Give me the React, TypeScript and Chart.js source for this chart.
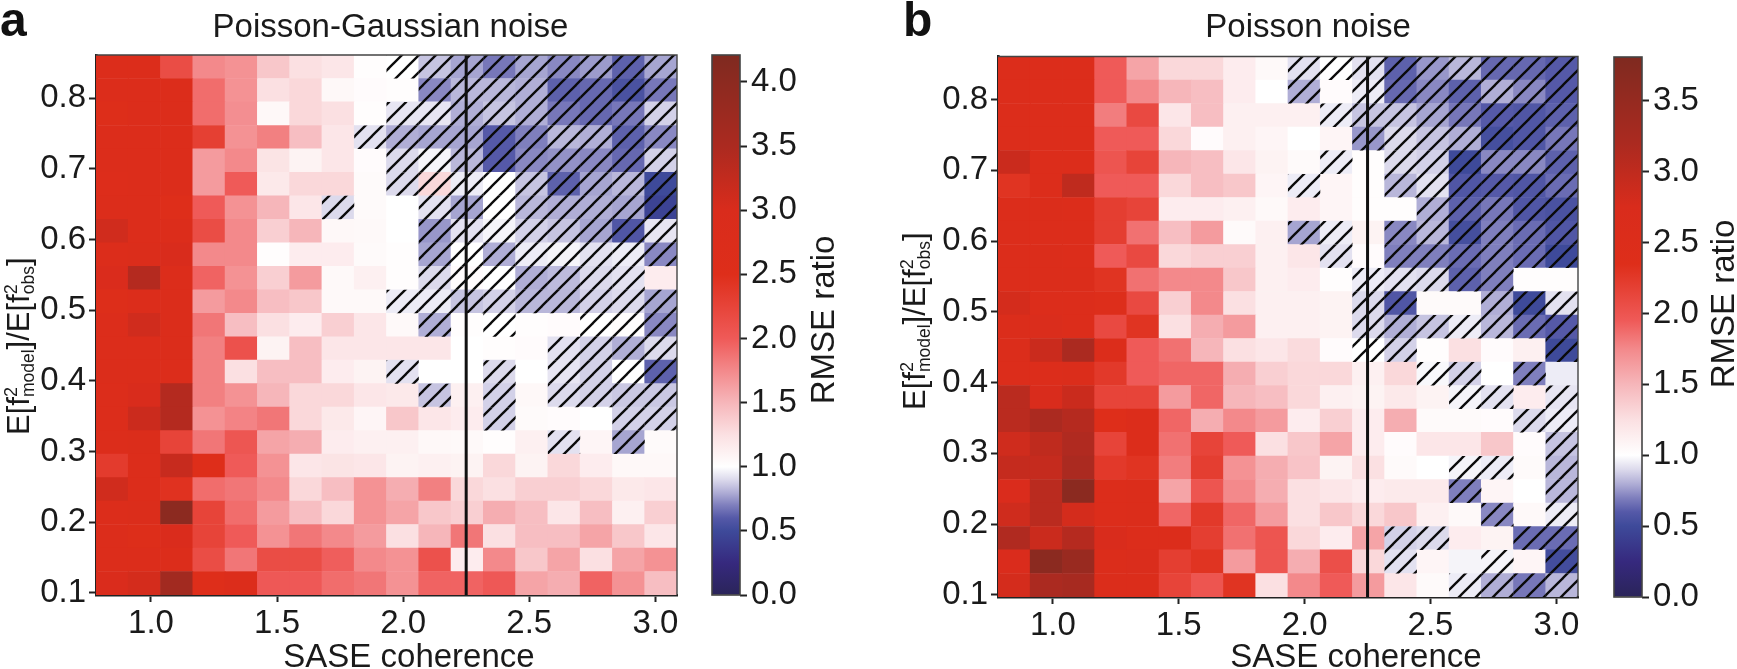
import React, { useEffect, useRef } from "react";
import { Chart, registerables } from "chart.js";

Chart.register(...registerables);

const FONT = '"Liberation Sans", Arial, sans-serif';
const INK = "#1a1a1a";

const coherenceCentres = [0.846, 0.974, 1.102, 1.23, 1.358, 1.486, 1.614, 1.742, 1.87, 1.998, 2.126, 2.254, 2.382, 2.51, 2.638, 2.766, 2.894, 3.022];
const fractionCentres = [0.8444, 0.8112, 0.778, 0.7447, 0.7115, 0.6783, 0.6451, 0.6119, 0.5787, 0.5455, 0.5122, 0.479, 0.4458, 0.4126, 0.3794, 0.3462, 0.313, 0.2797, 0.2465, 0.2133, 0.1801, 0.1469, 0.1136];
const xTickValues = [1.0, 1.5, 2.0, 2.5, 3.0];
const yTickValues = [0.1, 0.2, 0.3, 0.4, 0.5, 0.6, 0.7, 0.8];
const coherenceThreshold = [2.25];
const colorbarTicksA = [0, 0.5, 1, 1.5, 2, 2.5, 3, 3.5, 4];
const colorbarTicksB = [0, 0.5, 1, 1.5, 2, 2.5, 3, 3.5];

const ratioA = [
  [2.7, 2.7, 2.15, 1.75, 1.7, 1.4, 1.25, 1.2, 1.02, 1.0, 0.85, 0.78, 0.68, 0.78, 0.72, 0.76, 0.62, 0.78],
  [2.7, 2.75, 2.75, 1.9, 1.7, 1.25, 1.3, 1.06, 1.03, 1.02, 0.72, 0.82, 0.82, 0.8, 0.62, 0.64, 0.55, 0.68],
  [2.6, 2.75, 2.75, 1.9, 1.72, 1.06, 1.3, 1.25, 1.02, 0.93, 0.93, 0.8, 0.85, 0.8, 0.68, 0.64, 0.68, 0.88],
  [2.7, 2.7, 2.75, 2.3, 1.7, 1.8, 1.45, 1.2, 0.92, 0.8, 0.78, 0.78, 0.6, 0.7, 0.82, 0.8, 0.62, 0.72],
  [2.7, 2.7, 2.75, 1.65, 1.75, 1.22, 1.1, 1.2, 1.03, 0.9, 0.97, 0.82, 0.6, 0.72, 0.74, 0.72, 0.64, 0.88],
  [2.65, 2.7, 2.75, 1.65, 2.0, 1.18, 1.3, 1.3, 1.04, 0.9, 1.3, 0.95, 1.0, 0.85, 0.62, 0.78, 0.82, 0.5],
  [2.75, 2.75, 2.5, 2.0, 1.7, 1.5, 1.2, 0.9, 1.04, 1.0, 0.92, 0.78, 1.0, 0.82, 0.8, 0.8, 0.78, 0.45],
  [3.1, 2.75, 2.7, 2.15, 1.75, 1.35, 1.5, 1.06, 1.05, 1.0, 0.75, 0.92, 0.97, 0.88, 0.85, 0.78, 0.58, 0.93],
  [2.75, 2.8, 3.0, 1.75, 1.75, 1.02, 1.15, 1.15, 1.04, 1.02, 0.78, 1.0, 0.8, 0.95, 0.97, 0.92, 0.95, 0.72],
  [2.95, 3.4, 2.75, 1.95, 1.7, 1.35, 1.65, 1.05, 1.12, 1.02, 0.9, 1.03, 1.0, 0.8, 0.83, 0.9, 0.92, 1.15],
  [2.6, 2.75, 2.8, 1.65, 1.75, 1.45, 1.4, 1.05, 1.05, 0.95, 0.95, 0.85, 0.88, 0.82, 0.82, 0.88, 0.9, 0.78],
  [2.75, 3.1, 2.8, 1.85, 1.45, 1.25, 1.15, 1.35, 1.2, 1.05, 0.8, 1.02, 1.0, 1.02, 1.03, 1.0, 1.02, 0.72],
  [2.7, 2.7, 2.8, 1.8, 2.1, 1.1, 1.45, 1.2, 1.2, 1.2, 1.2, 1.0, 1.02, 1.03, 0.92, 0.88, 0.8, 0.9],
  [2.85, 2.85, 2.7, 1.8, 1.25, 1.45, 1.45, 1.15, 1.1, 0.92, 1.0, 1.0, 0.9, 1.0, 0.93, 0.88, 1.0, 0.62],
  [2.75, 3.0, 3.4, 1.8, 1.7, 1.5, 1.3, 1.3, 1.2, 1.18, 0.85, 1.12, 0.88, 1.06, 0.9, 0.88, 0.86, 0.86],
  [2.75, 3.15, 3.4, 1.7, 1.78, 1.85, 1.3, 1.18, 1.08, 1.4, 1.2, 1.15, 0.88, 1.04, 1.03, 1.0, 0.88, 0.88],
  [2.75, 2.85, 2.25, 1.85, 2.05, 1.6, 1.55, 1.15, 1.12, 1.12, 1.06, 1.05, 1.02, 1.12, 0.92, 1.08, 0.78, 1.04],
  [2.35, 2.75, 3.2, 2.5, 2.0, 1.7, 1.2, 1.22, 1.2, 1.1, 1.12, 1.1, 1.3, 1.1, 1.3, 1.15, 1.06, 1.06],
  [3.1, 2.75, 2.45, 1.9, 1.85, 1.75, 1.3, 1.45, 1.7, 1.55, 1.8, 1.3, 1.25, 1.35, 1.35, 1.3, 1.18, 1.2],
  [2.75, 2.85, 4.0, 2.25, 1.9, 1.65, 1.45, 1.3, 1.7, 1.6, 1.4, 1.35, 1.55, 1.45, 1.2, 1.45, 1.12, 1.35],
  [2.7, 2.6, 2.95, 2.25, 2.0, 1.7, 1.85, 1.75, 1.65, 1.25, 1.5, 1.85, 1.25, 1.45, 1.45, 1.6, 1.4, 1.2],
  [2.7, 2.7, 2.7, 2.15, 1.85, 2.15, 2.15, 1.98, 1.75, 1.7, 2.1, 1.15, 1.75, 1.4, 1.6, 1.25, 1.6, 1.7],
  [2.95, 3.05, 3.65, 2.55, 2.75, 2.02, 2.02, 1.9, 1.85, 1.7, 1.95, 1.95, 2.02, 1.6, 1.55, 1.95, 1.7, 1.45],
];

const hatchA = [
  "000000000111111111",
  "000000000011111111",
  "000000000111111111",
  "000000001111111111",
  "000000000111111111",
  "000000000111111111",
  "000000010011111111",
  "000000000011111111",
  "000000000011111111",
  "000000000011111110",
  "000000000111111111",
  "000000000010100111",
  "000000000000001111",
  "000000000100101111",
  "000000000010101111",
  "000000000000100011",
  "000000000000001010",
  "000000000000000000",
  "000000000000000000",
  "000000000000000000",
  "000000000000000000",
  "000000000000000000",
  "000000000000000000",
];

const ratioB = [
  [2.5, 2.5, 2.5, 1.95, 1.6, 1.3, 1.3, 1.15, 1.05, 0.92, 1.0, 0.92, 0.62, 0.75, 0.82, 0.64, 0.64, 0.6],
  [2.5, 2.55, 2.5, 1.95, 1.75, 1.5, 1.45, 1.15, 1.0, 0.8, 1.03, 0.95, 0.64, 0.72, 0.62, 0.8, 0.72, 0.6],
  [2.5, 2.5, 2.5, 1.8, 2.1, 1.2, 1.45, 1.12, 1.12, 1.12, 0.95, 0.85, 0.85, 0.78, 0.68, 0.6, 0.58, 0.62],
  [2.5, 2.5, 2.5, 1.95, 1.95, 1.3, 1.03, 1.12, 1.08, 1.0, 1.08, 0.75, 0.9, 0.85, 0.8, 0.53, 0.58, 0.68],
  [2.9, 2.5, 2.5, 2.0, 2.15, 1.5, 1.45, 1.2, 1.1, 1.04, 0.95, 1.02, 0.9, 0.88, 0.5, 0.72, 0.72, 0.62],
  [2.3, 2.55, 3.0, 1.95, 1.95, 1.3, 1.45, 1.4, 1.08, 0.95, 1.08, 1.02, 0.82, 0.92, 0.58, 0.6, 0.58, 0.65],
  [2.55, 2.6, 2.55, 2.2, 2.15, 1.15, 1.15, 1.12, 1.05, 1.15, 1.08, 1.02, 1.02, 0.8, 0.62, 0.68, 0.58, 0.55],
  [2.5, 2.5, 2.5, 2.2, 1.85, 1.45, 1.65, 1.04, 1.12, 0.78, 0.95, 1.1, 0.72, 0.82, 0.53, 0.7, 0.65, 0.58],
  [2.5, 2.6, 2.55, 1.95, 2.1, 1.3, 1.35, 1.35, 1.12, 1.2, 0.92, 1.03, 0.7, 0.7, 0.65, 0.7, 0.65, 0.5],
  [2.5, 2.6, 2.6, 2.3, 1.85, 1.75, 1.75, 1.4, 1.12, 1.15, 1.02, 0.95, 0.92, 0.9, 0.62, 0.7, 1.02, 1.02],
  [2.8, 2.5, 2.5, 2.45, 2.1, 1.35, 1.75, 1.25, 1.12, 1.12, 1.1, 0.9, 0.58, 1.04, 1.04, 0.8, 0.5, 0.92],
  [2.6, 2.65, 2.5, 2.1, 2.3, 1.25, 1.55, 1.65, 1.12, 1.12, 1.1, 0.9, 0.8, 0.85, 0.95, 0.82, 0.65, 0.6],
  [2.6, 2.9, 3.2, 2.5, 1.95, 1.85, 1.5, 1.25, 1.2, 1.28, 1.03, 1.0, 0.88, 1.02, 1.25, 1.03, 1.12, 0.5],
  [2.55, 2.55, 2.6, 2.25, 1.95, 1.9, 1.9, 1.55, 1.35, 1.3, 1.3, 1.12, 1.3, 0.98, 0.88, 1.0, 0.7, 0.95],
  [3.05, 2.75, 2.9, 2.15, 2.15, 1.65, 1.9, 1.5, 1.45, 1.3, 1.12, 1.1, 1.18, 1.1, 0.97, 0.92, 1.15, 0.93],
  [3.05, 3.2, 3.1, 2.35, 2.5, 1.9, 1.55, 1.75, 1.65, 1.15, 1.35, 1.15, 1.55, 1.04, 1.04, 1.03, 0.9, 0.95],
  [2.85, 3.0, 3.15, 2.15, 2.5, 1.85, 2.15, 1.95, 1.25, 1.4, 1.6, 1.15, 1.03, 1.2, 1.2, 1.4, 1.03, 0.85],
  [2.95, 2.95, 3.2, 2.25, 2.3, 1.8, 2.2, 1.7, 1.55, 1.42, 1.1, 1.25, 1.04, 1.0, 0.97, 0.95, 1.04, 0.82],
  [2.7, 3.05, 3.65, 2.55, 2.6, 1.6, 2.0, 1.75, 1.55, 1.25, 1.2, 1.15, 1.17, 1.17, 0.7, 1.08, 1.0, 0.82],
  [2.85, 3.05, 2.8, 2.55, 2.6, 1.9, 2.25, 1.9, 1.65, 1.25, 1.4, 1.3, 1.4, 1.12, 1.05, 0.72, 1.05, 0.95],
  [3.15, 2.9, 3.1, 2.75, 2.5, 2.5, 2.2, 1.85, 2.0, 1.3, 1.15, 1.6, 0.88, 0.9, 1.15, 1.1, 0.65, 0.65],
  [2.7, 3.65, 3.45, 2.6, 2.65, 2.2, 2.3, 1.65, 2.0, 1.55, 2.05, 1.3, 0.92, 1.08, 0.97, 0.97, 1.08, 0.52],
  [2.8, 3.2, 3.25, 2.6, 2.6, 2.15, 2.0, 2.3, 1.25, 1.75, 1.95, 1.65, 1.2, 1.04, 0.95, 0.8, 0.68, 0.82],
];

const hatchB = [
  "000000000111111111",
  "000000000101111111",
  "000000000011111111",
  "000000000001111111",
  "000000000010111111",
  "000000000100111111",
  "000000000000011111",
  "000000000110111111",
  "000000000010111111",
  "000000000001111100",
  "000000000001100111",
  "000000000001111111",
  "000000000001100001",
  "000000000000011010",
  "000000000000001101",
  "000000000000000011",
  "000000000000000001",
  "000000000000001101",
  "000000000000001001",
  "000000000000000101",
  "000000000000110011",
  "000000000000100101",
  "000000000000001111",
];

const stopColors = ["#2a2459", "#36297e", "#3e4a9a", "#5559a8", "#7f7fbd", "#b0aed6", "#dcdaec", "#ffffff", "#fbe0e2", "#f6b6ba", "#f3898b", "#ef5a58", "#de2e1a", "#d92c1c", "#ab2a20", "#7f2a20"];
const stopValuesA = [0, 0.25, 0.5, 0.6, 0.7, 0.8, 0.9, 1, 1.25, 1.5, 1.75, 2, 2.5, 3, 3.5, 4.21];
const stopValuesB = [0, 0.25, 0.5, 0.6, 0.7, 0.8, 0.9, 1, 1.25, 1.5, 1.75, 1.95, 2.35, 2.75, 3.2, 3.81];

const rgb = (h: string) => [1, 3, 5].map((i) => parseInt(h.slice(i, i + 2), 16));
function colorFor(v: number, stops: number[]) {
  let i = 0;
  while (i < stops.length - 2 && v > stops[i + 1]) i++;
  const t = Math.min(1, Math.max(0, (v - stops[i]) / (stops[i + 1] - stops[i])));
  const a = rgb(stopColors[i]);
  const b = rgb(stopColors[i + 1]);
  return `rgb(${a.map((c, k) => Math.round(c + (b[k] - c) * t)).join(",")})`;
}

const X_MIN = 0.782;
const X_MAX = 3.086;
const Y_MIN = 0.097;
const Y_MAX = 0.861;
const ROW_STEP = 0.0332;
const TICK_FONT = 33;
const LABEL_FONT = 33;
const HATCH_PERIOD = 17;

function hatchPattern(phase: number) {
  const p = HATCH_PERIOD;
  const tile = document.createElement("canvas");
  tile.width = p;
  tile.height = p;
  const c = tile.getContext("2d")!;
  c.strokeStyle = "#0a0a0a";
  c.lineWidth = 2.3;
  for (const o of [-p, 0, p]) {
    c.beginPath();
    c.moveTo(o - 2, p + 2);
    c.lineTo(o + p + 2, -2);
    c.stroke();
  }
  const pattern = c.createPattern(tile, "repeat") as CanvasPattern;
  pattern.setTransform(new DOMMatrix().translate(phase, 0));
  return pattern;
}

function text(ctx: CanvasRenderingContext2D, s: string, x: number, y: number, size: number, weight = "normal") {
  ctx.font = `${weight} ${size}px ${FONT}`;
  ctx.fillText(s, x, y);
  return ctx.measureText(s).width;
}

function panelPlugin(o: any) {
  return {
    id: "panelExtras",
    afterDraw(chart: any) {
      const { ctx, chartArea: a } = chart;
      ctx.save();
      ctx.strokeStyle = "#444";
      ctx.lineWidth = 1.4;
      ctx.beginPath();
      ctx.moveTo(a.left, a.top);
      ctx.lineTo(a.right, a.top);
      ctx.lineTo(a.right, a.bottom);
      ctx.stroke();
      ctx.fillStyle = "#111";
      ctx.textBaseline = "alphabetic";
      ctx.textAlign = "left";
      text(ctx, o.letter, o.letterX, 36, 48, "bold");
      ctx.fillStyle = INK;
      ctx.textAlign = "center";
      text(ctx, o.title, o.titleX, 37, LABEL_FONT);
      text(ctx, "SASE coherence", o.xLabelX, 667, LABEL_FONT);
      ctx.textAlign = "left";
      ctx.translate(o.labelX, o.labelBottom);
      ctx.rotate(-Math.PI / 2);
      let x = 0;
      x += text(ctx, "E[f", x, 0, 31);
      text(ctx, "2", x, -12, 18);
      x += text(ctx, "model", x, 5, 17.5);
      x += text(ctx, "]/E[f", x, 0, 31);
      text(ctx, "2", x, -12, 18);
      x += text(ctx, "obs", x, 5, 17.5);
      text(ctx, "]", x, 0, 31);
      ctx.restore();
    },
  };
}

function makeHeatmap(canvas: HTMLCanvasElement, o: any) {
  const cells = fractionCentres.flatMap((fy, r) =>
    coherenceCentres.map((x, c) => ({ x, y: [fy - ROW_STEP / 2, fy + ROW_STEP / 2], v: o.values[r][c], h: o.hatch[r][c] === "1" }))
  );
  return new Chart(canvas, {
    type: "bar",
    data: {
      datasets: [
        {
          data: cells.map((d) => ({ x: d.x, y: d.y })),
          backgroundColor: cells.map((d) => colorFor(d.v, o.stops)),
          barThickness: o.cellWidth,
          grouped: false,
          order: 3,
        },
        {
          data: cells.filter((d) => d.h).map((d) => ({ x: d.x, y: d.y })),
          backgroundColor: hatchPattern(o.hatchPhase),
          barThickness: o.cellWidth,
          grouped: false,
          inflateAmount: 0,
          order: 2,
        },
        {
          type: "line",
          data: [
            { x: coherenceThreshold[0], y: Y_MIN },
            { x: coherenceThreshold[0], y: Y_MAX },
          ],
          borderColor: "#111",
          borderWidth: 3,
          pointRadius: 0,
          order: 1,
        },
      ] as any,
    },
    options: {
      responsive: false,
      animation: false,
      layout: { padding: { left: 0, right: o.rightPad, top: o.plotTop, bottom: 0 } },
      plugins: {
        legend: { display: false },
        tooltip: { enabled: false },
      },
      scales: {
        x: {
          type: "linear",
          min: X_MIN,
          max: X_MAX,
          offset: false,
          afterBuildTicks: (s: any) => {
            s.ticks = xTickValues.map((value) => ({ value }));
          },
          afterFit: (s: any) => {
            s.height = 669 - o.plotBottom;
          },
          ticks: { autoSkip: false, maxRotation: 0, color: INK, padding: 2, font: { family: FONT, size: TICK_FONT }, callback: (v: any) => Number(v).toFixed(1) },
          grid: { offset: false, drawOnChartArea: false, drawTicks: true, tickLength: 7, tickWidth: 2, tickColor: "#222" },
          border: { display: true, color: "#222", width: 2.6 },
        },
        y: {
          type: "linear",
          min: Y_MIN,
          max: Y_MAX,
          afterBuildTicks: (s: any) => {
            s.ticks = yTickValues.map((value) => ({ value }));
          },
          afterFit: (s: any) => {
            s.width = o.plotLeft;
          },
          ticks: { autoSkip: false, color: INK, padding: 3, font: { family: FONT, size: TICK_FONT }, callback: (v: any) => Number(v).toFixed(1) },
          grid: { drawOnChartArea: false, drawTicks: true, tickLength: 7, tickWidth: 2, tickColor: "#222" },
          border: { display: true, color: "#222", width: 2.6 },
        },
      },
    } as any,
    plugins: [panelPlugin(o)] as any,
  });
}

function makeColorbar(canvas: HTMLCanvasElement, o: any) {
  return new Chart(canvas, {
    type: "bar",
    data: {
      labels: ["RMSE ratio"],
      datasets: [
        {
          data: [[0, o.stops[o.stops.length - 1]]],
          barPercentage: 1,
          categoryPercentage: 1,
          backgroundColor: (ctx: any) => {
            const area = ctx.chart.chartArea;
            const top = o.stops[o.stops.length - 1];
            if (!area || !Number.isFinite(area.top) || !Number.isFinite(area.bottom)) return stopColors[7];
            const g = ctx.chart.ctx.createLinearGradient(0, area.bottom, 0, area.top);
            o.stops.forEach((v: number, i: number) => g.addColorStop(v / top, stopColors[i]));
            return g;
          },
        },
      ] as any,
    },
    options: {
      responsive: false,
      animation: false,
      layout: { padding: { left: o.left, right: 0, top: o.plotTop, bottom: 669 - o.plotBottom } },
      plugins: { legend: { display: false }, tooltip: { enabled: false } },
      scales: {
        x: { display: false },
        y: {
          position: "right",
          min: 0,
          max: o.stops[o.stops.length - 1],
          afterBuildTicks: (s: any) => {
            s.ticks = o.ticks.map((value: number) => ({ value }));
          },
          afterFit: (s: any) => {
            s.width = o.axisWidth;
          },
          ticks: { autoSkip: false, color: INK, padding: 4, font: { family: FONT, size: TICK_FONT }, callback: (v: any) => Number(v).toFixed(1) },
          grid: { drawOnChartArea: false, drawTicks: true, tickLength: 7, tickWidth: 2, tickColor: "#222" },
          border: { display: false },
        },
      },
    } as any,
    plugins: [
      {
        id: "colorbarExtras",
        afterDraw(chart: any) {
          const { ctx, chartArea: a } = chart;
          ctx.save();
          ctx.strokeStyle = "#444";
          ctx.lineWidth = 1.6;
          ctx.strokeRect(a.left, a.top, a.right - a.left, a.bottom - a.top);
          ctx.translate(o.labelX, o.labelY);
          ctx.rotate(-Math.PI / 2);
          ctx.fillStyle = INK;
          ctx.font = `${LABEL_FONT}px ${FONT}`;
          ctx.textAlign = "center";
          ctx.textBaseline = "middle";
          ctx.fillText("RMSE ratio", 0, 0);
          ctx.restore();
        },
      },
    ] as any,
  });
}

const frames = [
  { left: 0, width: 700 },
  { left: 700, width: 180 },
  { left: 880, width: 720 },
  { left: 1600, width: 137 },
];

export default function App() {
  const refs = [useRef<HTMLCanvasElement>(null), useRef<HTMLCanvasElement>(null), useRef<HTMLCanvasElement>(null), useRef<HTMLCanvasElement>(null)];
  useEffect(() => {
    const charts = [
      makeHeatmap(refs[0].current!, {
        values: ratioA, hatch: hatchA, stops: stopValuesA, title: "Poisson-Gaussian noise", letter: "a", letterX: 0, titleX: 390.5, xLabelX: 409, hatchPhase: 15,
        cellWidth: 32.3, plotLeft: 96, plotTop: 55, plotBottom: 595, rightPad: 23, labelX: 29, labelBottom: 435,
      }),
      makeColorbar(refs[1].current!, {
        stops: stopValuesA, ticks: colorbarTicksA, left: 12, axisWidth: 140, plotTop: 55, plotBottom: 595, labelX: 125, labelY: 320,
      }),
      makeHeatmap(refs[2].current!, {
        values: ratioB, hatch: hatchB, stops: stopValuesB, title: "Poisson noise", letter: "b", letterX: 23, titleX: 428, xLabelX: 476, hatchPhase: 3,
        cellWidth: 32.3, plotLeft: 118, plotTop: 56.5, plotBottom: 597, rightPad: 22, labelX: 45, labelBottom: 410,
      }),
      makeColorbar(refs[3].current!, {
        stops: stopValuesB, ticks: colorbarTicksB, left: 14, axisWidth: 95, plotTop: 57, plotBottom: 597, labelX: 125, labelY: 304,
      }),
    ];
    return () => charts.forEach((c) => c.destroy());
  }, []);
  return (
    <div style={{ position: "fixed", left: 0, top: 0, width: 1737, height: 669, background: "#fff", overflow: "hidden" }}>
      {frames.map((f, i) => (
        <canvas key={i} ref={refs[i]} width={f.width} height={669} style={{ position: "absolute", left: f.left, top: 0, width: f.width, height: 669 }} />
      ))}
    </div>
  );
}
